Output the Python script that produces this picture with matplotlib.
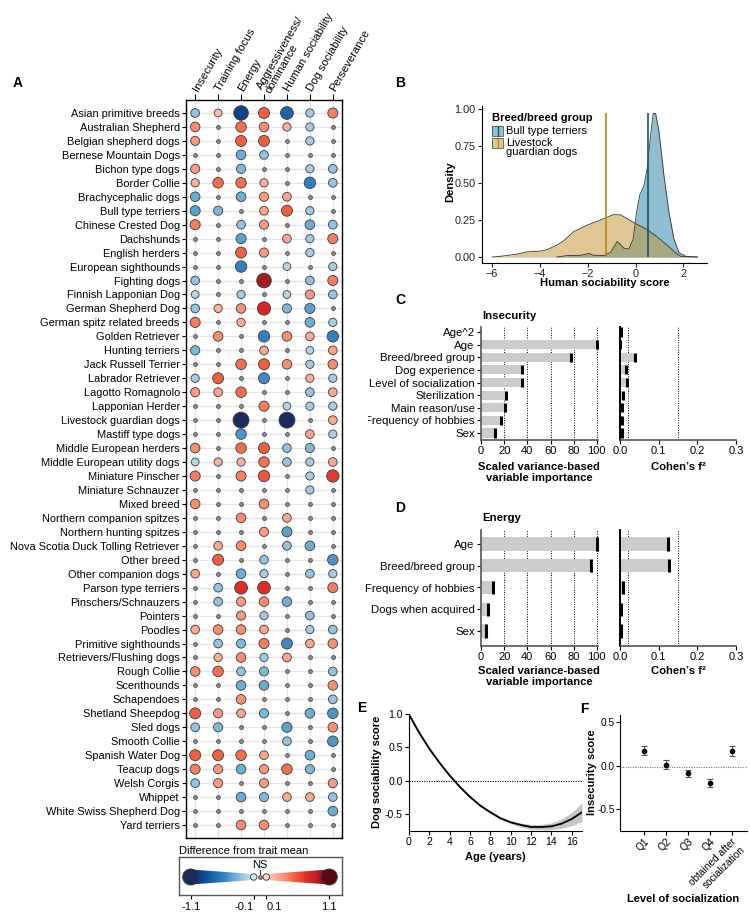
import numpy as np
import matplotlib
matplotlib.use('Agg')
import matplotlib.pyplot as plt
from matplotlib.colors import LinearSegmentedColormap, Normalize
from matplotlib.transforms import Affine2D, Bbox, TransformedBbox
from matplotlib.patches import Polygon, Rectangle
from matplotlib.lines import Line2D

plt.rcParams['font.family'] = ['Liberation Sans', 'DejaVu Sans']
FS = 8.0

# ---------------- data ----------------
# Panel A: difference from trait mean (0 = not significant)
breeds = ['Asian primitive breeds', 'Australian Shepherd', 'Belgian shepherd dogs',
          'Bernese Mountain Dogs', 'Bichon type dogs', 'Border Collie',
          'Brachycephalic dogs', 'Bull type terriers', 'Chinese Crested Dog',
          'Dachshunds', 'English herders', 'European sighthounds', 'Fighting dogs',
          'Finnish Lapponian Dog', 'German Shepherd Dog', 'German spitz related breeds',
          'Golden Retriever', 'Hunting terriers', 'Jack Russell Terrier',
          'Labrador Retriever', 'Lagotto Romagnolo', 'Lapponian Herder',
          'Livestock guardian dogs', 'Mastiff type dogs', 'Middle European herders',
          'Middle European utility dogs', 'Miniature Pinscher', 'Miniature Schnauzer',
          'Mixed breed', 'Northern companion spitzes', 'Northern hunting spitzes',
          'Nova Scotia Duck Tolling Retriever', 'Other breed', 'Other companion dogs',
          'Parson type terriers', 'Pinschers/Schnauzers', 'Pointers', 'Poodles',
          'Primitive sighthounds', 'Retrievers/Flushing dogs', 'Rough Collie',
          'Scenthounds', 'Schapendoes', 'Shetland Sheepdog', 'Sled dogs',
          'Smooth Collie', 'Spanish Water Dog', 'Teacup dogs', 'Welsh Corgis',
          'Whippet', 'White Swiss Shepherd Dog', 'Yard terriers']
traits = ['Insecurity', 'Training focus', 'Energy', 'Aggressiveness/\ndominance',
          'Human sociability', 'Dog sociability', 'Perseverance']
diff = [
    [-0.3, 0.2, -0.95, 0.55, -0.75, -0.25, 0.45],
    [0.4, 0, 0.5, 0.4, 0.25, -0.25, 0],
    [0.35, 0, 0.55, 0.55, 0, -0.25, 0],
    [0, 0, -0.4, -0.3, 0, 0, 0],
    [0.35, 0, -0.35, 0, 0, -0.25, -0.3],
    [0.25, 0.5, 0.5, 0.25, 0, -0.6, -0.3],
    [-0.4, 0, -0.4, 0.35, 0.3, 0, 0],
    [-0.45, -0.35, 0, 0.3, 0.55, -0.25, 0],
    [0.45, 0, -0.3, 0.35, 0, -0.4, -0.3],
    [0, 0, -0.45, 0, 0.3, -0.25, 0.45],
    [0, 0, 0.55, 0.35, 0, -0.25, 0],
    [0, 0, -0.6, 0, -0.2, 0, -0.25],
    [-0.3, 0, 0, 0.95, 0, -0.3, 0.45],
    [-0.2, 0, -0.25, 0, -0.2, 0.35, -0.3],
    [-0.3, 0.25, 0.4, 0.8, -0.35, -0.45, 0],
    [0.45, 0, 0.25, 0, 0, -0.4, -0.25],
    [0, 0.4, 0, -0.6, 0.4, 0.3, -0.6],
    [-0.35, 0, 0, 0.3, 0, -0.2, 0.3],
    [0, 0, 0.5, 0.55, 0.4, -0.25, 0.4],
    [-0.25, 0.55, 0, -0.55, 0, 0.25, -0.25],
    [0.35, 0.3, 0.5, 0, 0, -0.3, 0.3],
    [0, 0, 0, 0.45, -0.2, -0.25, -0.25],
    [0, 0, -1.1, 0, -1.1, 0, 0.3],
    [0, 0, -0.5, 0, 0, 0.3, -0.25],
    [0.4, 0, 0.5, 0.55, -0.3, -0.35, 0],
    [-0.2, 0.25, 0.25, 0.5, -0.3, -0.25, 0.3],
    [0.45, 0, 0.45, 0.6, 0, -0.25, 0.7],
    [0, 0, 0, 0, 0, -0.25, 0],
    [0.4, 0, 0, 0.4, 0, 0, 0],
    [0, 0, 0.4, 0, 0.3, 0, 0],
    [0, 0, 0, 0.35, -0.45, 0, 0],
    [0, 0.3, 0.4, 0, -0.3, -0.4, 0],
    [0, 0.55, 0, -0.3, 0, 0, -0.5],
    [0.3, 0, -0.4, -0.25, 0, -0.3, -0.25],
    [0, -0.3, 0.75, 0.75, 0, 0, 0.45],
    [0, -0.3, 0.35, 0.4, -0.4, 0, 0],
    [0, 0, 0.35, -0.25, 0, -0.3, 0],
    [0.3, 0.4, 0.4, 0.3, 0, -0.25, -0.3],
    [0, -0.3, -0.35, 0.45, -0.55, 0.3, 0.4],
    [0, 0.25, 0.4, -0.25, 0.3, 0, 0],
    [0.4, 0.5, -0.3, -0.35, 0, 0, -0.3],
    [0, 0, -0.4, -0.4, 0, 0, 0.4],
    [0, 0, 0.4, 0, 0, 0, -0.3],
    [0.55, 0.35, 0.3, -0.35, 0, -0.4, -0.5],
    [-0.3, -0.35, 0, 0, -0.45, 0, 0.4],
    [0, 0, 0, 0, -0.3, 0, -0.5],
    [0.55, 0.55, 0.5, 0.3, 0, -0.4, 0],
    [0.45, 0.35, -0.4, 0.35, 0.5, -0.35, 0],
    [-0.3, 0.35, 0, 0.35, 0, 0, 0.35],
    [0, 0, -0.4, -0.35, 0.3, 0.3, -0.3],
    [0, 0, 0, 0, 0, 0, -0.4],
    [0, 0, 0.4, 0.4, 0, 0, 0],
]
legend_vals = [-1.1, -0.1, 0.1, 1.1]

# Panel B: density of human sociability score
bull_x = [-3.3, -2.87, -2.38, -2.1, -1.95, -1.75, -1.33, -1.05, -0.9, -0.77, -0.62,
          -0.49, -0.28, -0.1, 0.04, 0.18, 0.35, 0.49, 0.63, 0.74, 0.84, 0.98, 1.19,
          1.4, 1.61, 1.82, 2.1, 2.59]
bull_d = [0.0, 0.01, 0.01, 0.018, 0.025, 0.012, 0.01, 0.03, 0.07, 0.105, 0.085,
          0.06, 0.055, 0.12, 0.3, 0.42, 0.48, 0.6, 0.82, 0.97, 0.97, 0.85, 0.55,
          0.3, 0.12, 0.03, 0.005, 0.0]
lgd_x = [-6.0, -5.5, -4.95, -4.55, -4.0, -3.7, -3.3, -3.0, -2.6, -2.03, -1.47, -0.91,
         -0.63, -0.35, 0.0, 0.49, 0.91, 1.33, 1.68, 1.89, 2.59]
lgd_d = [0.0, 0.008, 0.02, 0.035, 0.04, 0.05, 0.08, 0.11, 0.17, 0.215, 0.25, 0.287,
         0.285, 0.26, 0.226, 0.186, 0.136, 0.08, 0.027, 0.005, 0.0]
bull_mean = 0.52
lgd_mean = -1.22

# Panel C: Insecurity
ins_vars = ['Age^2', 'Age', 'Breed/breed group', 'Dog experience', 'Level of socialization',
            'Sterilization', 'Main reason/use', 'Frequency of hobbies', 'Sex']
ins_imp = [0, 100, 78, 35, 35, 22, 21, 17, 12]
ins_f2 = [0.002, 0.0, 0.038, 0.015, 0.019, 0.008, 0.005, 0.005, 0.005]

# Panel D: Energy
en_vars = ['Age', 'Breed/breed group', 'Frequency of hobbies', 'Dogs when acquired', 'Sex']
en_imp = [100, 95, 10, 6, 4]
en_f2 = [0.125, 0.127, 0.007, 0.003, 0.002]

# Panel E: dog sociability by age
ages = list(range(18))
dog_fit = [0.99, 0.72, 0.48, 0.27, 0.08, -0.09, -0.24, -0.37, -0.47, -0.56, -0.62,
           -0.66, -0.69, -0.69, -0.68, -0.64, -0.57, -0.47]
dog_ci = [0.04, 0.03, 0.025, 0.02, 0.02, 0.02, 0.02, 0.02, 0.02, 0.02, 0.025, 0.03,
          0.035, 0.04, 0.05, 0.07, 0.1, 0.14]

# Panel F: insecurity by level of socialization
soc_levels = ['Q1', 'Q2', 'Q3', 'Q4', 'obtained after\nsocialization']
soc_mean = [0.17, 0.01, -0.09, -0.2, 0.17]
soc_err = [0.05, 0.05, 0.04, 0.045, 0.06]
soc_ref = -0.02

# ---------------- figure ----------------
W, H = 750, 913
fig = plt.figure(figsize=(W / 100, H / 100), dpi=100)
T = Affine2D().scale(1 / W, -1 / H).translate(0, 1) + fig.transFigure


def box(x0, y0, x1, y1):
    return fig.add_axes([x0 / W, 1 - y1 / H, (x1 - x0) / W, (y1 - y0) / H])


def ptext(x, y, s, **kw):
    kw.setdefault('fontsize', FS)
    return fig.text(x, y, s, transform=T, **kw)


anchors = [(-1.1, '#1c2b5f'), (-0.9, '#0b4b95'), (-0.6, '#2f7fc1'), (-0.4, '#6aaed6'),
           (-0.25, '#a5cde4'), (-0.1, '#d6e7f2'), (0, '#f5f5f5'), (0.1, '#fdd6c6'),
           (0.25, '#fcb19a'), (0.4, '#f98d70'), (0.55, '#f1623f'), (0.75, '#dd2f27'),
           (0.9, '#c21f24'), (1.1, '#5a0912')]
cmap = LinearSegmentedColormap.from_list('diff', [((v + 1.1) / 2.2, c) for v, c in anchors])
norm = Normalize(-1.1, 1.1)


def dsize(v):
    d = 6 + 9 * np.abs(v)
    return (d * 0.72) ** 2

# ---- A ----
axA = box(186, 100, 342, 838)
vals = np.array(diff)
nb = len(breeds)
rows, cols = np.indices(vals.shape)
sig = vals != 0
axA.set_xlim(-0.4, 6.4)
axA.set_ylim(nb - 1 + 0.93, -0.93)
for i in range(nb):
    axA.axhline(i, color='#e4e4e4', lw=0.9, zorder=0)
for j in range(len(traits)):
    axA.axvline(j, color='#e4e4e4', lw=0.9, zorder=0)
axA.scatter(cols[~sig], rows[~sig], s=(4 * 0.72) ** 2, c='#8a8a8a',
            edgecolors='#454545', linewidths=0.5, zorder=3)
axA.scatter(cols[sig], rows[sig], s=dsize(vals[sig]), c=vals[sig], cmap=cmap, norm=norm,
            edgecolors='#3a3a3a', linewidths=0.6, zorder=3)
axA.set_yticks(range(nb))
axA.set_yticklabels(breeds, fontsize=7.9)
axA.xaxis.tick_top()
axA.set_xticks(range(len(traits)))
axA.set_xticklabels(traits, rotation=60, ha='left', va='center',
                    rotation_mode='anchor', fontsize=8.1, linespacing=0.88)
axA.tick_params(axis='y', length=3, width=0.8, pad=1.5)
axA.tick_params(axis='x', length=4, width=0.8, pad=3)
for s in axA.spines.values():
    s.set_linewidth(1.0)
ptext(18, 83, 'A', fontsize=10, fontweight='bold', ha='center', va='center')

# legend for A
ptext(179, 851, 'Difference from trait mean', ha='left', va='center')
axL = box(179, 857, 342, 895)
lx0, lx1 = (179 - 260) / 63, (342 - 260) / 63
cy = 18
for lo, hi in ((-1.1, -0.1), (0.1, 1.1)):
    big, small = (lo, hi) if lo < 0 else (hi, lo)
    poly = Polygon([(big, cy - 7.5), (small, cy - 3), (small, cy + 3), (big, cy + 7.5)],
                   closed=True, fc='none', ec='none')
    axL.add_patch(poly)
    grad = np.linspace(lo, hi, 256)[None, :]
    im = axL.imshow(grad, extent=[lo, hi, 0, 38], cmap=cmap, norm=norm,
                    aspect='auto', origin='lower', zorder=1)
    im.set_clip_path(poly)
axL.scatter(legend_vals, [cy] * 4, s=[((16 if abs(v) > 1 else 6.5) * 0.72) ** 2 for v in legend_vals],
            c=legend_vals, cmap=cmap, norm=norm, edgecolors='#333333', linewidths=0.6, zorder=3)
axL.scatter([0], [cy], s=(4 * 0.72) ** 2, c='#8a8a8a', edgecolors='#454545',
            linewidths=0.5, zorder=3)
axL.plot([0, 0], [21, 25], color='#333333', lw=0.7)
axL.text(0, 29.5, 'NS', ha='center', va='center', fontsize=FS)
axL.set_xlim(lx0, lx1)
axL.set_ylim(0, 38)
axL.set_yticks([])
axL.set_xticks(legend_vals)
axL.set_xticklabels([f'{v:.1f}' for v in legend_vals], fontsize=FS)
axL.tick_params(axis='x', length=3, width=0.8, pad=2)
tl = axL.get_xticklabels()
tl[1].set_horizontalalignment('right')
tl[2].set_horizontalalignment('left')
for s in axL.spines.values():
    s.set_color('#555555')
    s.set_linewidth(1.0)

# ---- B ----
axB = box(482, 106, 707, 263)
bull_col, lgd_col = '#1f7fa5', '#c1932b'
axB.fill_between(bull_x, bull_d, color=bull_col, alpha=0.5, lw=0, zorder=1)
axB.plot(bull_x, bull_d, color='#333333', lw=0.6, zorder=2)
axB.fill_between(lgd_x, lgd_d, color=lgd_col, alpha=0.5, lw=0, zorder=1)
axB.plot(lgd_x, lgd_d, color='#333333', lw=0.6, zorder=2)
axB.vlines(lgd_mean, 0, 0.97, color='#b8860b', lw=1.2, zorder=3)
axB.vlines(bull_mean, 0, 0.97, color='#17566f', lw=1.2, zorder=3)
axB.set_xlim(-6.42, 2.99)
axB.set_ylim(-0.04, 1.02)
axB.set_xticks([-6, -4, -2, 0, 2])
axB.set_yticks([0, 0.25, 0.5, 0.75, 1.0])
axB.set_yticklabels(['0.00', '0.25', '0.50', '0.75', '1.00'])
axB.tick_params(labelsize=7.8, length=3, width=0.8, pad=1.5, colors='#222222')
axB.spines[['top', 'right']].set_visible(False)
ptext(400, 83, 'B', fontsize=10, fontweight='bold', ha='center', va='center')
ptext(605, 283, 'Human sociability score', fontsize=8.1, fontweight='bold', ha='center', va='center')
ptext(450, 182, 'Density', fontsize=8.1, fontweight='bold', ha='center', va='center', rotation=90)
ptext(492, 118, 'Breed/breed group', fontsize=8.1, fontweight='bold', ha='left', va='center')
for (yk, lab, col, lc) in ((131, 'Bull type terriers', bull_col, '#17566f'),
                           (143, 'Livestock\nguardian dogs', lgd_col, '#b8860b')):
    fig.add_artist(Rectangle((492, yk - 5), 11, 10, transform=T, fc=col, alpha=0.5, ec='none'))
    fig.add_artist(Rectangle((492, yk - 5), 11, 10, transform=T, fc='none', ec='#333333', lw=0.5))
    fig.add_artist(Line2D([497.5, 497.5], [yk - 5, yk + 5], transform=T, color=lc, lw=1.0))
    ptext(506, yk - 5.5, lab, ha='left', va='top', linespacing=0.9)


# ---- C / D ----
def importance(label, ly, title, ty, top, bottom, first, step, names, imp, f2, h, xl_y, clip_x=None):
    n = len(names)
    ylim = (n - 1 + (bottom - (first + step * (n - 1))) / step, -(first - top) / step)
    axl = box(481, top, 598, bottom)
    axr = box(620, top, 736, bottom)
    y = np.arange(n)
    imp = np.array(imp, dtype=float)
    f2 = np.array(f2, dtype=float)
    axl.barh(y, imp, height=h, color='#cccccc', zorder=2)
    m = imp > 0
    axl.vlines(imp[m], y[m] - h / 2, y[m] + h / 2, color='k', lw=2.2, zorder=3, clip_on=False)
    for v in (20, 40, 60, 80, 100):
        axl.axvline(v, color='k', ls=(0, (1, 1.5)), lw=0.7, zorder=1)
    axl.set_xlim(0, 101)
    axl.set_xticks([0, 20, 40, 60, 80, 100])
    axl.set_yticks(y)
    axl.set_yticklabels(names, fontsize=8.2)
    axr.barh(y, f2, height=h, color='#cccccc', zorder=2)
    axr.vlines(f2, y - h / 2, y + h / 2, color='k', lw=2.2, zorder=3, clip_on=False)
    for v in (0.02, 0.15):
        axr.axvline(v, color='k', ls=(0, (1, 1.5)), lw=0.7, zorder=1)
    axr.set_xlim(0, 0.3)
    axr.set_xticks([0, 0.1, 0.2, 0.3])
    axr.set_xticklabels(['0.0', '0.1', '0.2', '0.3'])
    axr.set_yticks([])
    for ax in (axl, axr):
        ax.set_ylim(*ylim)
        ax.spines[['top', 'right']].set_visible(False)
        ax.spines['bottom'].set_color('#555555')
        ax.spines['bottom'].set_linewidth(1.2)
        ax.tick_params(axis='x', labelsize=8.0, length=3, width=0.8, pad=1.5)
        ax.tick_params(axis='y', length=3, width=0.8, pad=1.5)
    axl.spines['left'].set_color('#555555')
    axl.spines['left'].set_linewidth(1.2)
    axr.spines['left'].set_linewidth(1.4)
    if clip_x is not None:
        cb = TransformedBbox(Bbox.from_extents(clip_x / W, 0, 1, 1), fig.transFigure)
        for t in axl.get_yticklabels():
            t.set_clip_on(True)
            t.set_clip_box(cb)
    ptext(400, ly, label, fontsize=10, fontweight='bold', ha='center', va='center')
    ptext(482, ty, title, fontsize=8.2, fontweight='bold', ha='left', va='center')
    ptext(539, xl_y, 'Scaled variance-based\nvariable importance', fontsize=8.1,
          fontweight='bold', ha='center', va='top', linespacing=1.1)
    ptext(678, xl_y, 'Cohen\u2019s f\u00b2', fontsize=8.1, fontweight='bold', ha='center', va='top')


importance('C', 300, 'Insecurity', 316, 327, 440, 332, 12.63, ins_vars, ins_imp, ins_f2, 0.72, 462, clip_x=368)
importance('D', 508, 'Energy', 518, 530, 646, 544, 21.75, en_vars, en_imp, en_f2, 0.6, 666)

# ---- E ----
axE = box(409, 714, 582, 831)
fit = np.array(dog_fit)
ci = np.array(dog_ci)
axE.fill_between(ages, fit - ci, fit + ci, color='#c6c6c6', lw=0, zorder=1)
axE.plot(ages, fit, color='k', lw=1.3, zorder=2)
axE.axhline(0, color='k', ls=(0, (1, 1.2)), lw=0.8, zorder=1)
axE.set_xlim(0, 17)
axE.set_ylim(-0.75, 1.0)
axE.set_xticks(range(0, 17, 2))
axE.set_yticks([-0.5, 0, 0.5, 1.0])
axE.set_yticklabels(['-0.5', '0.0', '0.5', '1.0'])
axE.spines[['top', 'right']].set_visible(False)
axE.tick_params(labelsize=7.6, length=3, width=0.8, pad=1.5)
ptext(362, 708, 'E', fontsize=10, fontweight='bold', ha='center', va='center')
ptext(377, 772, 'Dog sociability score', fontsize=8.0, fontweight='bold', ha='center', va='center', rotation=90)
ptext(495, 857, 'Age (years)', fontsize=8.0, fontweight='bold', ha='center', va='center')

# ---- F ----
axF = box(620, 715, 747, 831)
xs = np.arange(len(soc_levels))
axF.axhline(soc_ref, color='#777777', ls=(0, (1, 1.2)), lw=0.8, zorder=1)
axF.errorbar(xs, soc_mean, yerr=soc_err, fmt='o', ms=3, color='k', ecolor='#555555',
             elinewidth=0.8, capsize=2, capthick=0.8, zorder=3)
axF.set_xlim(-1.1, 4.7)
axF.set_ylim(-0.75, 0.58)
axF.set_xticks(xs)
axF.set_xticklabels(soc_levels, rotation=45, ha='right', va='top', rotation_mode='anchor')
axF.set_yticks([-0.5, 0, 0.5])
axF.set_yticklabels(['-0.5', '0.0', '0.5'])
axF.spines[['top', 'right']].set_visible(False)
axF.tick_params(labelsize=7.3, length=3, width=0.8, pad=1.0)
ptext(584, 709, 'F', fontsize=10, fontweight='bold', ha='center', va='center')
ptext(592, 772, 'Insecurity score', fontsize=8.0, fontweight='bold', ha='center', va='center', rotation=90)
ptext(683, 899, 'Level of socialization', fontsize=8.0, fontweight='bold', ha='center', va='center')

fig.savefig('out.png', dpi=100, facecolor='white')
